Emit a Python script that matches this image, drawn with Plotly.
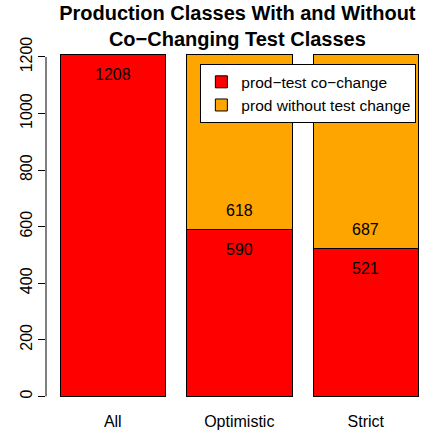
import plotly.graph_objects as go

categories = ["All", "Optimistic", "Strict"]
co_change = [1208, 590, 521]
without_change = [None, 618, 687]
y_ticks = [0, 200, 400, 600, 800, 1000, 1200]

RED = "#FF0000"
ORANGE = "#FFA500"
FONT = "Liberation Sans, Arial, sans-serif"

fig = go.Figure()
fig.add_trace(go.Bar(
    x=categories, y=co_change, name="prod\u2212test co\u2212change",
    marker=dict(color=RED, line=dict(color="black", width=1)),
))
fig.add_trace(go.Bar(
    x=categories, y=without_change, name="prod without test change",
    marker=dict(color=ORANGE, line=dict(color="black", width=1)),
))

# value labels
for cat, red, orange in zip(categories, co_change, without_change):
    fig.add_annotation(x=cat, y=red, text=str(red), showarrow=False,
                       yshift=-20, font=dict(size=16, color="black", family=FONT))
    if orange is not None:
        fig.add_annotation(x=cat, y=red, text=str(orange), showarrow=False,
                           yshift=19, font=dict(size=16, color="black", family=FONT))

# R-style y axis line spanning only tick range
fig.add_shape(type="line", xref="paper", yref="y", x0=0, x1=0,
              y0=y_ticks[0], y1=y_ticks[-1], line=dict(color="black", width=1))

fig.update_layout(
    width=430, height=430,
    margin=dict(l=46, r=0, t=41, b=20),
    paper_bgcolor="white", plot_bgcolor="white",
    barmode="stack", bargap=0.166,
    font=dict(family=FONT, size=16, color="black"),
    title=dict(text="<b>Production Classes With and Without<br>Co\u2212Changing Test Classes</b>",
               x=0.552, xanchor="center", y=0.953, yanchor="middle",
               font=dict(size=20, family=FONT)),
    xaxis=dict(range=[-0.528, 2.508], showline=False, ticks="", showgrid=False,
               zeroline=False, tickfont=dict(size=16)),
    yaxis=dict(range=[-48.32, 1256.32], tickvals=y_ticks, ticks="outside", ticklen=7,
               tickcolor="black", showline=False, showgrid=False, zeroline=False,
               tickangle=-90, tickfont=dict(size=16)),
    legend=dict(x=0.402, xanchor="left", y=0.937, yanchor="top",
                bordercolor="black", borderwidth=1, bgcolor="white",
                traceorder="normal", font=dict(size=15.5)),
    showlegend=True,
)

fig.write_html("out.html", config={"displayModeBar": False},
               post_script="document.body.style.margin='0';")
